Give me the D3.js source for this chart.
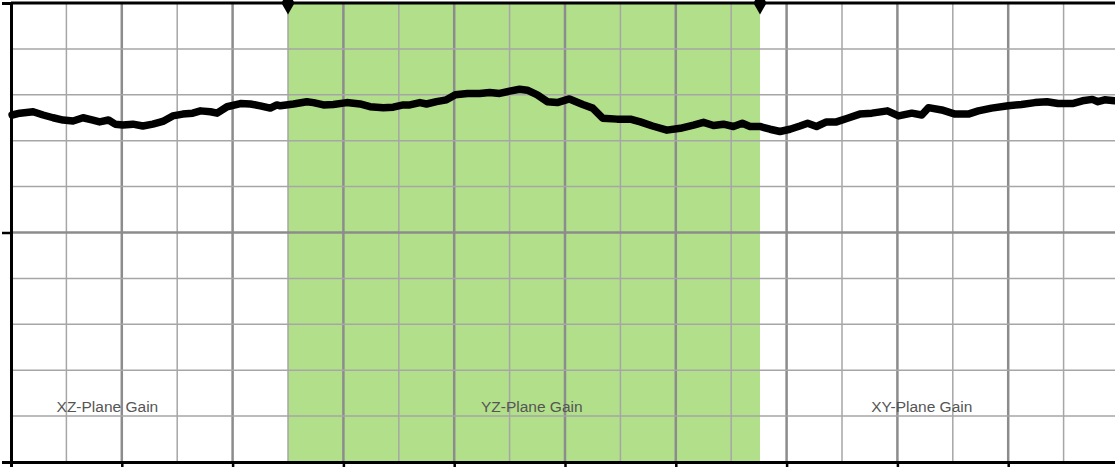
<!DOCTYPE html>
<html>
<head>
<meta charset="utf-8">
<script src="https://cdn.jsdelivr.net/npm/d3@7"></script>
<style>
  html, body { margin: 0; padding: 0; background: #fff; }
  svg { display: block; }
</style>
</head>
<body>
<div id="chart"></div>
<script>
// gain trace, x in grid units (0..1000), y in grid units (0..10)
const gainX = [1,8,20,29,38,47,56,65,74,80,88,94,101,110,119,128,137,146,155,164,171,180,186,195,207,216,225,234,240,243,
  255,267,273,282,291,303,315,324,336,345,354,360,369,375,384,393,401,412,423,432,441,450,459,466,475,484,493,504,516,525,
  534,547,559,568,579,592,604,616,625,634,643,652,660,667,676,685,694,703,712,719,727,736,745,755,766,777,791,801,813,822,
  828,840,852,864,873,885,900,912,924,935,945,958,967,976,981,987,996];
const gainY = [7.56,7.60,7.63,7.56,7.50,7.45,7.43,7.50,7.45,7.41,7.45,7.36,7.34,7.36,7.32,7.36,7.42,7.54,7.58,7.60,7.65,7.63,7.60,7.74,7.81,7.80,7.76,7.71,7.78,7.76,
  7.80,7.85,7.83,7.78,7.79,7.83,7.80,7.74,7.72,7.73,7.78,7.78,7.83,7.80,7.85,7.89,8.00,8.03,8.03,8.05,8.03,8.08,8.12,8.10,8.00,7.85,7.83,7.91,7.79,7.71,
  7.49,7.47,7.47,7.41,7.32,7.23,7.27,7.34,7.40,7.33,7.36,7.31,7.38,7.31,7.31,7.25,7.20,7.25,7.32,7.38,7.31,7.41,7.41,7.49,7.58,7.60,7.65,7.54,7.60,7.56,
  7.72,7.67,7.58,7.58,7.65,7.71,7.76,7.79,7.83,7.85,7.81,7.81,7.87,7.90,7.85,7.89,7.87];

// shaded YZ-plane region
const bandStart = 250, bandEnd = 676;

const planeLabels = ["XZ-Plane Gain", "YZ-Plane Gain", "XY-Plane Gain"];
const labelX = [87, 470, 822];
const labelY = 1.1;

const width = 1115, height = 467;
const x = d3.scaleLinear().domain([0, 1000]).range([11, 1119]);
const y = d3.scaleLinear().domain([0, 10]).range([462, 3]);

const svg = d3.select("#chart").append("svg")
  .attr("width", width).attr("height", height);

// band
svg.append("rect")
  .attr("x", x(bandStart)).attr("y", y(10))
  .attr("width", x(bandEnd) - x(bandStart))
  .attr("height", y(0) - y(10))
  .attr("fill", "#b2df8a");

// grid
const grid = svg.append("g");
grid.selectAll("line.v")
  .data(d3.range(50, 1001, 50))
  .join("line")
    .attr("x1", d => x(d)).attr("x2", d => x(d))
    .attr("y1", y(0)).attr("y2", y(10))
    .attr("stroke", d => d % 100 === 0 ? "#8c8c8c" : "#a6a6a6")
    .attr("stroke-width", d => d % 100 === 0 ? 2.5 : 1.5);
grid.selectAll("line.h")
  .data(d3.range(1, 10))
  .join("line")
    .attr("x1", x(0)).attr("x2", width)
    .attr("y1", d => y(d)).attr("y2", d => y(d))
    .attr("stroke", d => d === 5 ? "#8c8c8c" : "#a6a6a6")
    .attr("stroke-width", d => d === 5 ? 2.5 : 1.5);

// trace
const pts = gainX.map((v, i) => [v, gainY[i]]);
svg.append("path")
  .datum(pts)
  .attr("fill", "none")
  .attr("stroke", "#000")
  .attr("stroke-width", 7.5)
  .attr("stroke-linejoin", "round")
  .attr("stroke-linecap", "round")
  .attr("d", d3.line().x(d => x(d[0])).y(d => y(d[1])));

// axes (no labels)
const xAxis = svg.append("g")
  .attr("transform", `translate(0,${y(0)})`)
  .call(d3.axisBottom(x).tickValues(d3.range(100, 1001, 100)).tickSize(6).tickFormat(""));
const yAxis = svg.append("g")
  .attr("transform", `translate(${x(0)},0)`)
  .call(d3.axisLeft(y).tickValues([0, 5, 10]).tickSize(9).tickFormat(""));
[xAxis, yAxis].forEach(a => {
  a.select(".domain").attr("stroke", "#000").attr("stroke-width", 3);
  a.selectAll(".tick line").attr("stroke", "#000").attr("stroke-width", 2.5);
});

// top border
svg.append("line")
  .attr("x1", x(0)).attr("x2", width)
  .attr("y1", y(10)).attr("y2", y(10))
  .attr("stroke", "#000").attr("stroke-width", 3);

// band edge markers
svg.selectAll("path.marker")
  .data([bandStart, bandEnd])
  .join("path")
    .attr("transform", d => `translate(${x(d)},${y(10)})`)
    .attr("d", d3.symbol(d3.symbolDiamond, 150))
    .attr("fill", "#000");

// labels
svg.selectAll("text.plane")
  .data(planeLabels)
  .join("text")
    .attr("x", (d, i) => x(labelX[i]))
    .attr("y", y(labelY))
    .attr("text-anchor", "middle")
    .attr("font-family", "Liberation Sans, Arial, sans-serif")
    .attr("font-size", "15.5px")
    .attr("fill", "#555")
    .text(d => d);
</script>
</body>
</html>
